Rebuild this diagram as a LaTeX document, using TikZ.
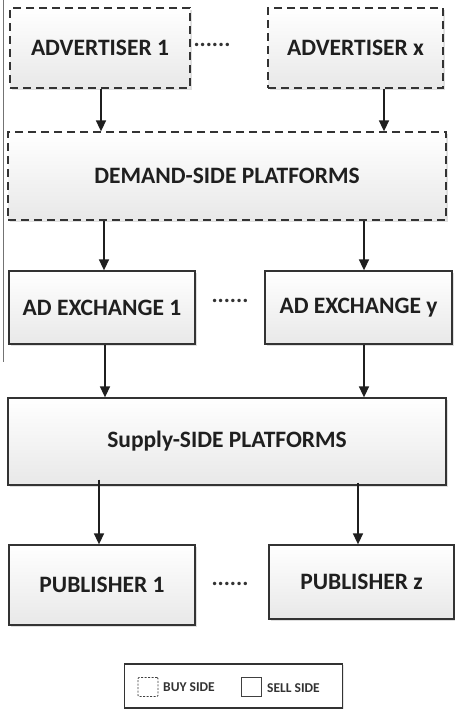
\documentclass[tikz,border=0pt]{standalone}
\usepackage{fontspec}
\setmainfont{Carlito}
\usetikzlibrary{arrows.meta,shadows}
\begin{document}
\begin{tikzpicture}[x=1pt,y=-1pt,
  box/.style={draw=black!80,line width=1.3pt,top color=white,bottom color=black!9,
    drop shadow={shadow xshift=1.5pt,shadow yshift=-1.5pt,opacity=0.25},
    inner sep=0pt,font=\bfseries\fontsize{23.5}{26}\selectfont,text=black!88},
  buy/.style={box,dashed,dash pattern=on 8pt off 5pt},
  sell/.style={box},
  flow/.style={-{Triangle[length=11pt,width=10pt]},line width=1.6pt,draw=black!88},
  dots/.style={font=\bfseries\fontsize{23}{26}\selectfont,text=black!80,anchor=base,inner sep=0pt}]
\useasboundingbox (0,0) rectangle (455,716);
\fill[white] (0,0) rectangle (455,716);
% thin rule at the left edge
\draw[black!55,line width=0.8pt] (3,0) -- (3,362);

% buy side
\node[buy,minimum width=180pt,minimum height=80pt] (adv1) at (100,48) {ADVERTISER 1};
\node[buy,minimum width=175pt,minimum height=80pt] (advx) at (355.5,48) {ADVERTISER x};
\node[dots] (d1) at (212,46) {......};
\node[buy,minimum width=438pt,minimum height=88pt] (dsp) at (227,176) {DEMAND-SIDE PLATFORMS};

% exchanges
\node[sell,minimum width=186pt,minimum height=73pt] (ax1) at (102,307.5) {AD EXCHANGE 1};
\node[sell,minimum width=187pt,minimum height=73pt] (axy) at (358.5,307.5) {AD EXCHANGE y};
\node[dots] (d2) at (230,302) {......};

% sell side
\node[sell,minimum width=438pt,minimum height=87pt] (ssp) at (227,441.5) {Supply-SIDE PLATFORMS};
\node[sell,minimum width=186pt,minimum height=80pt] (pub1) at (102,585) {PUBLISHER 1};
\node[sell,minimum width=185pt,minimum height=74pt] (pubz) at (361.5,582) {PUBLISHER z};
\node[dots] (d3) at (230,585) {......};

% connectors
\draw[flow] (adv1.south -| 101,0) -- (dsp.north -| 101,0);
\draw[flow] (advx.south -| 384,0) -- (dsp.north -| 384,0);
\draw[flow] (dsp.south -| 104,0) -- (ax1.north -| 104,0);
\draw[flow] (dsp.south -| 364,0) -- (axy.north -| 364,0);
\draw[flow] (ax1.south -| 105,0) -- (ssp.north -| 105,0);
\draw[flow] (axy.south -| 364,0) -- (ssp.north -| 364,0);
\draw[flow] ([yshift=6pt]ssp.south -| 99,0) -- (pub1.north -| 99,0);
\draw[flow] ([yshift=3pt]ssp.south -| 358,0) -- (pubz.north -| 358,0);

% legend
\node[draw=black!80,line width=1.8pt,fill=white,minimum width=218pt,minimum height=44pt,
  drop shadow={shadow xshift=1pt,shadow yshift=-1pt,opacity=0.2}] (leg) at (233.5,686) {};
\node[draw=black!75,dashed,dash pattern=on 2pt off 1.5pt,line width=0.8pt,rounded corners=1pt,
  minimum width=20pt,minimum height=19pt,inner sep=0pt] (kbuy) at (148,687) {};
\node[anchor=west,font=\bfseries\fontsize{13.5}{15}\selectfont,text=black!80,inner sep=0pt] (tbuy) at (163,687) {BUY SIDE};
\node[draw=black!75,line width=0.8pt,minimum width=20pt,minimum height=19pt,inner sep=0pt] (ksell) at (251,687) {};
\node[anchor=west,font=\bfseries\fontsize{13.5}{15}\selectfont,text=black!80,inner sep=0pt] (tsell) at (267,688) {SELL SIDE};
\end{tikzpicture}
\end{document}
